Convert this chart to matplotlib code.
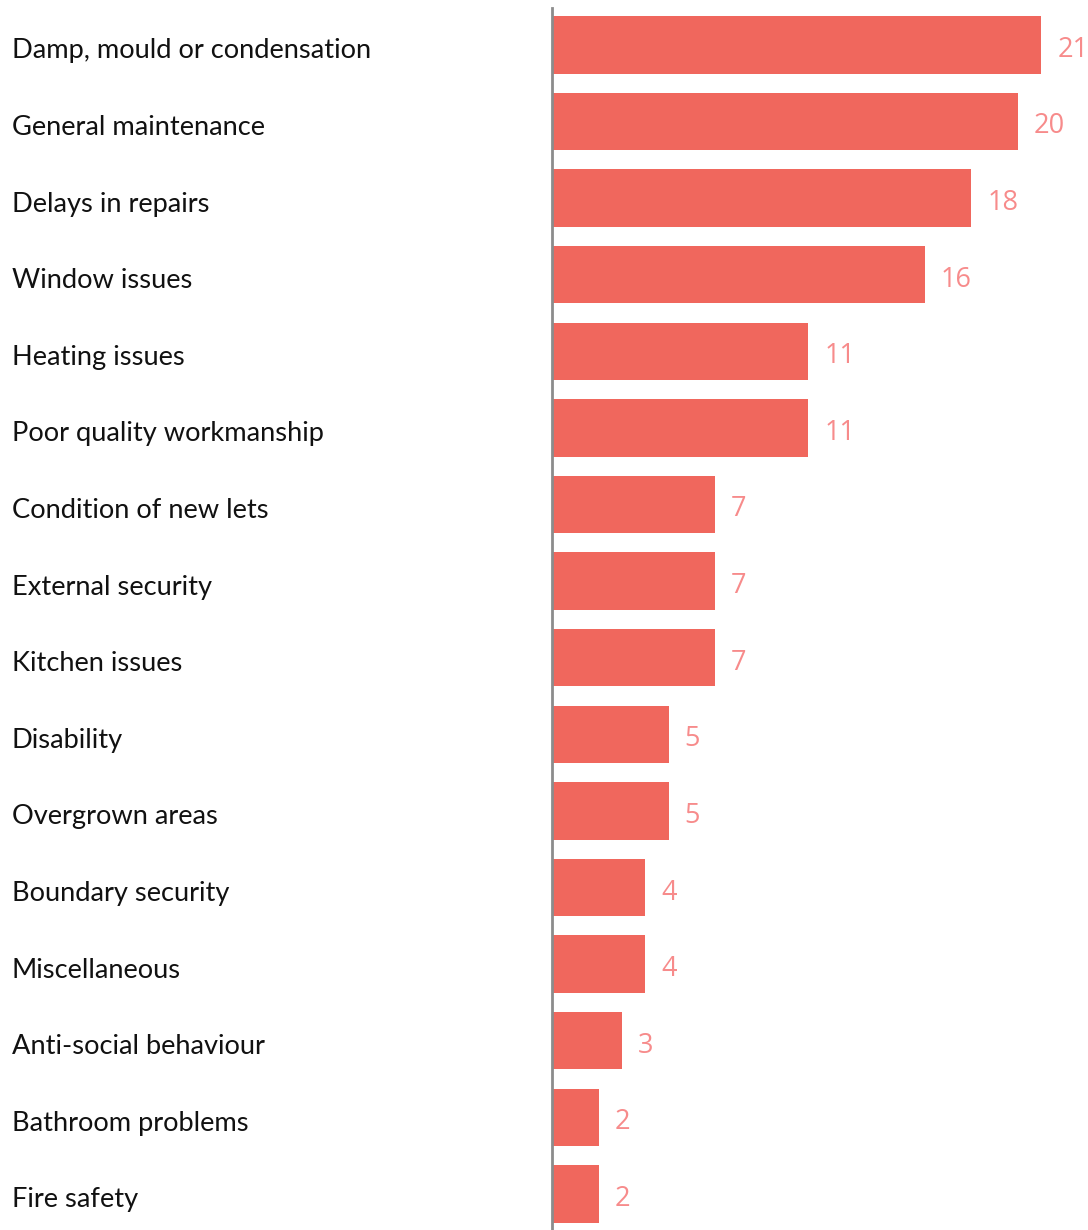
import matplotlib
matplotlib.use("Agg")
import matplotlib.pyplot as plt
from matplotlib.transforms import blended_transform_factory, offset_copy

categories = [
    "Damp, mould or condensation",
    "General maintenance",
    "Delays in repairs",
    "Window issues",
    "Heating issues",
    "Poor quality workmanship",
    "Condition of new lets",
    "External security",
    "Kitchen issues",
    "Disability",
    "Overgrown areas",
    "Boundary security",
    "Miscellaneous",
    "Anti-social behaviour",
    "Bathroom problems",
    "Fire safety",
]
counts = [21, 20, 18, 16, 11, 11, 7, 7, 7, 5, 5, 4, 4, 3, 2, 2]

bar_color = "#f0675d"
value_color = "#f78b8b"

fig = plt.figure(figsize=(10.88, 12.30), dpi=100)
ax = fig.add_axes([552 / 1088, 0, 1 - 552 / 1088, 1222 / 1230])

ypos = list(range(len(categories)))
ax.barh(ypos, counts, height=0.75, color=bar_color, zorder=2)

ax.set_xlim(0, 23.0)
ax.set_ylim(15.47, -0.48)

for s in ["top", "right", "bottom"]:
    ax.spines[s].set_visible(False)
ax.spines["left"].set_color("#8c8c8c")
ax.spines["left"].set_linewidth(2)
ax.set_xticks([])
ax.set_yticks([])

# category names, left aligned near the figure edge
label_tf = offset_copy(blended_transform_factory(fig.transFigure, ax.transData),
                       fig=fig, x=0, y=-6, units="dots")
for y, name in zip(ypos, categories):
    ax.text(12 / 1088, y, name, transform=label_tf, ha="left", va="center",
            fontsize=19.6, family="Lato", color="#111111", clip_on=False)

# value labels at bar ends
val_tf = offset_copy(ax.transData, fig=fig, x=16, y=-5, units="dots")
for y, v in zip(ypos, counts):
    ax.text(v, y, str(v), transform=val_tf, ha="left", va="center",
            fontsize=19.5, family="Open Sans", color=value_color, clip_on=False)

fig.savefig("out.png", dpi=100, facecolor="white")
